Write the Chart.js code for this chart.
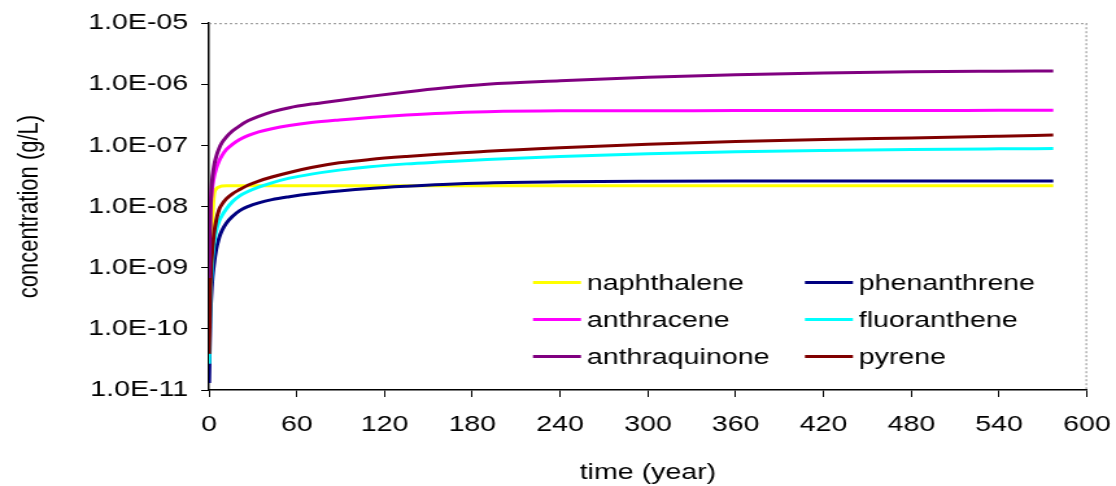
<!DOCTYPE html>
<html>
<head>
<meta charset="utf-8">
<title>PAH concentration over time</title>
<script src="https://cdn.jsdelivr.net/npm/chart.js@4.4.0/dist/chart.umd.min.js"></script>
<style>
  html, body { margin: 0; padding: 0; background: #fff; overflow: hidden; }
  /* the chart is drawn narrow and widened horizontally, giving the wide lettering */
  #wrap { width: 860px; height: 486px; transform: scaleX(1.297674); transform-origin: 0 0; }
  #c { display: block; }
</style>
</head>
<body>
<div id="wrap"><canvas id="c" width="860" height="486"></canvas></div>
<script>
// time axis (years)
const times = [0.1, 1, 2, 3.4, 5, 7, 9, 12, 16, 21, 27, 34, 43, 55, 70, 89, 110, 135, 160, 190, 240, 300, 360, 420, 480, 540, 577];

// concentrations (g/L)
const naphthalene   = [3e-10, 1.5e-9, 4e-9, 1.5e-8, 1.95e-8, 2.1e-8, 2.17e-8, 2.2e-8, 2.2e-8, 2.2e-8, 2.2e-8, 2.2e-8, 2.2e-8, 2.2e-8, 2.2e-8, 2.2e-8, 2.2e-8, 2.2e-8, 2.2e-8, 2.2e-8, 2.2e-8, 2.2e-8, 2.2e-8, 2.2e-8, 2.2e-8, 2.2e-8, 2.2e-8];
const phenanthrene  = [1.3e-11, 1.5e-10, 5e-10, 1.1e-9, 2e-9, 3.1e-9, 4.1e-9, 5.4e-9, 6.9e-9, 8.6e-9, 1.01e-8, 1.15e-8, 1.3e-8, 1.45e-8, 1.62e-8, 1.8e-8, 1.98e-8, 2.15e-8, 2.3e-8, 2.43e-8, 2.54e-8, 2.6e-8, 2.63e-8, 2.63e-8, 2.63e-8, 2.63e-8, 2.63e-8];
const anthracene    = [2e-9, 8e-9, 1.8e-8, 3e-8, 4.2e-8, 5.6e-8, 6.9e-8, 8.6e-8, 1.04e-7, 1.25e-7, 1.46e-7, 1.67e-7, 1.88e-7, 2.12e-7, 2.37e-7, 2.62e-7, 2.88e-7, 3.15e-7, 3.38e-7, 3.56e-7, 3.68e-7, 3.7e-7, 3.72e-7, 3.73e-7, 3.74e-7, 3.75e-7, 3.75e-7];
const fluoranthene  = [2.7e-11, 3e-10, 1e-9, 2.4e-9, 4e-9, 5.8e-9, 7.2e-9, 9.2e-9, 1.2e-8, 1.5e-8, 1.78e-8, 2.08e-8, 2.45e-8, 2.92e-8, 3.4e-8, 3.95e-8, 4.5e-8, 5.0e-8, 5.4e-8, 5.9e-8, 6.6e-8, 7.3e-8, 7.9e-8, 8.3e-8, 8.6e-8, 8.8e-8, 8.9e-8];
const anthraquinone = [6.8e-10, 8e-9, 2.4e-8, 4.5e-8, 6.6e-8, 9e-8, 1.12e-7, 1.38e-7, 1.72e-7, 2.1e-7, 2.55e-7, 3.0e-7, 3.55e-7, 4.15e-7, 4.75e-7, 5.45e-7, 6.35e-7, 7.5e-7, 8.7e-7, 1.0e-6, 1.14e-6, 1.3e-6, 1.43e-6, 1.53e-6, 1.6e-6, 1.64e-6, 1.66e-6];
const pyrene        = [3.9e-11, 5e-10, 1.5e-9, 3.5e-9, 6e-9, 9e-9, 1.1e-8, 1.35e-8, 1.62e-8, 1.9e-8, 2.25e-8, 2.62e-8, 3.05e-8, 3.62e-8, 4.35e-8, 5.2e-8, 5.9e-8, 6.6e-8, 7.25e-8, 8.05e-8, 9.2e-8, 1.05e-7, 1.16e-7, 1.25e-7, 1.33e-7, 1.42e-7, 1.48e-7];

// axis ticks
const xTickLabels = ['0', '60', '120', '180', '240', '300', '360', '420', '480', '540', '600'];
const yTickValues = [1e-11, 1e-10, 1e-9, 1e-8, 1e-7, 1e-6, 1e-5];
const yTickLabels = ['1.0E-11', '1.0E-10', '1.0E-09', '1.0E-08', '1.0E-07', '1.0E-06', '1.0E-05'];

const FONT_FAMILY = '"Liberation Sans", Arial, sans-serif';
const font = { family: FONT_FAMILY, size: 22 };

function series(label, values, color, order) {
  return {
    label,
    data: times.map((t, i) => ({ x: t, y: values[i] })),
    borderColor: color,
    backgroundColor: color,
    borderWidth: 3,
    pointRadius: 0,
    fill: false,
    cubicInterpolationMode: 'monotone',
    order
  };
}

// dotted frame on the top and right of the plot area
const plotFrame = {
  id: 'plotFrame',
  beforeDatasetsDraw(chart) {
    const { ctx, chartArea: a } = chart;
    ctx.save();
    ctx.strokeStyle = '#8a8a8a';
    ctx.lineWidth = 1;
    ctx.setLineDash([2, 2]);
    ctx.beginPath();
    ctx.moveTo(a.left, a.top + 0.5);
    ctx.lineTo(a.right, a.top + 0.5);
    ctx.moveTo(a.right - 0.5, a.top);
    ctx.lineTo(a.right - 0.5, a.bottom);
    ctx.stroke();
    ctx.restore();
  }
};

// two-column legend inside the plot area
const gridLegend = {
  id: 'gridLegend',
  afterDraw(chart, args, opts) {
    const { ctx } = chart;
    chart.data.datasets.forEach((ds, i) => {
      const x = opts.colX[i % 2];
      const y = opts.rowY[Math.floor(i / 2)];
      ctx.save();
      ctx.strokeStyle = ds.borderColor;
      ctx.lineWidth = 3;
      ctx.beginPath();
      ctx.moveTo(x, y);
      ctx.lineTo(x + opts.lineLength, y);
      ctx.stroke();
      ctx.fillStyle = '#000';
      ctx.font = `${font.size}px ${FONT_FAMILY}`;
      ctx.textAlign = 'left';
      ctx.textBaseline = 'middle';
      ctx.fillText(ds.label, x + opts.lineLength + opts.gap, y + 1);
      ctx.restore();
    });
  }
};

new Chart(document.getElementById('c'), {
  type: 'line',
  data: {
    datasets: [
      series('naphthalene', naphthalene, '#FFFF00', 5),
      series('phenanthrene', phenanthrene, '#000080', 4),
      series('anthracene', anthracene, '#FF00FF', 2),
      series('fluoranthene', fluoranthene, '#00FFFF', 3),
      series('anthraquinone', anthraquinone, '#800080', 0),
      series('pyrene', pyrene, '#800000', 1)
    ]
  },
  options: {
    responsive: false,
    devicePixelRatio: 1,
    animation: false,
    layout: { padding: { top: 20, right: 22.4, bottom: 0, left: 0 } },
    plugins: {
      legend: { display: false },
      tooltip: { enabled: false },
      gridLegend: { colX: [410.7, 620.3], rowY: [282.6, 319.6, 356.6], lineLength: 37, gap: 4.5 }
    },
    scales: {
      x: {
        type: 'linear',
        min: 0,
        max: 600,
        afterFit: s => {
          s.height = 96;
          // the label gap below the axis should not eat into the plot width
          s.paddingLeft = 0;
          s.paddingRight = 0;
        },
        ticks: {
          stepSize: 60,
          autoSkip: false,
          maxRotation: 0,
          padding: 15,
          color: '#000',
          font,
          callback: (v, i) => xTickLabels[i]
        },
        grid: { drawOnChartArea: false, drawTicks: true, tickLength: 7, color: '#000', lineWidth: 1 },
        border: { display: true, color: '#000', width: 1.5 },
        title: { display: true, text: 'time (year)', color: '#000', font, padding: { top: 0, bottom: 0 } }
      },
      y: {
        type: 'logarithmic',
        min: 1e-11,
        max: 1e-5,
        afterBuildTicks: s => { s.ticks = yTickValues.map(v => ({ value: v })); },
        afterFit: s => { s.width = 161; },
        ticks: {
          autoSkip: false,
          padding: 10,
          color: '#000',
          font,
          callback: (v, i) => yTickLabels[i]
        },
        grid: { drawOnChartArea: false, drawTicks: true, tickLength: 6, color: '#000', lineWidth: 1 },
        border: { display: true, color: '#000', width: 1.5 },
        title: { display: true, text: 'concentration (g/L)', color: '#000', font, padding: { top: 10, bottom: 0 } }
      }
    }
  },
  plugins: [plotFrame, gridLegend]
});
</script>
</body>
</html>
